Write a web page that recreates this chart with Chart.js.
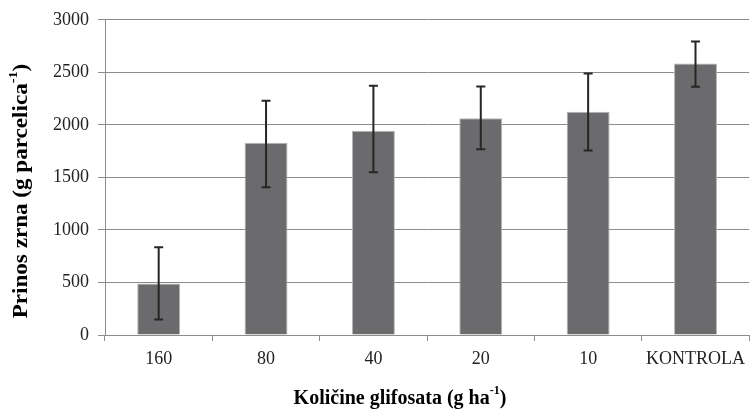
<!DOCTYPE html>
<html>
<head>
<meta charset="utf-8">
<script src="https://cdn.jsdelivr.net/npm/chart.js@4.4.1/dist/chart.umd.min.js"></script>
<style>
  body { margin: 0; background: #fff; }
  #wrap { width: 752px; height: 411px; position: relative; }
</style>
</head>
<body>
<div id="wrap"><canvas id="c"></canvas></div>
<script>
// doses of glyphosate (g ha-1)
const categories = ['160', '80', '40', '20', '10', 'KONTROLA'];
// grain yield, g per plot
const yieldMeans = [490, 1829, 1943, 2062, 2126, 2585];
const errLow = [147, 1407, 1550, 1769, 1755, 2363];
const errHigh = [835, 2230, 2373, 2366, 2490, 2794];
const yTicks = [0, 500, 1000, 1500, 2000, 2500, 3000];

const SERIF = '"Liberation Serif", "Times New Roman", serif';

// error bars drawn over the bars
const errorBars = {
  id: 'errorBars',
  afterDatasetsDraw(chart) {
    const ctx = chart.ctx;
    const x = chart.scales.x, y = chart.scales.y;
    ctx.save();
    ctx.strokeStyle = '#262626';
    ctx.lineWidth = 2;
    categories.forEach((c, i) => {
      const px = x.getPixelForValue(i);
      const top = y.getPixelForValue(errHigh[i]);
      const bot = y.getPixelForValue(errLow[i]);
      ctx.beginPath();
      ctx.moveTo(px, top); ctx.lineTo(px, bot);
      ctx.moveTo(px - 4.5, top); ctx.lineTo(px + 4.5, top);
      ctx.moveTo(px - 4.5, bot); ctx.lineTo(px + 4.5, bot);
      ctx.stroke();
    });
    ctx.restore();
  }
};

// axis title with a superscript -1, centred on (0,0), stretched along the text by k
function drawSup(ctx, main, sup, tail, size, k) {
  const big = 'bold ' + size + 'px ' + SERIF;
  const small = 'bold ' + Math.round(size * 0.6) + 'px ' + SERIF;
  ctx.font = big;
  const w1 = ctx.measureText(main).width;
  const w3 = ctx.measureText(tail).width;
  ctx.font = small;
  const w2 = ctx.measureText(sup).width;
  ctx.scale(k, 1);
  const sx = -(w1 + w2 + w3) / 2;
  ctx.textBaseline = 'middle';
  ctx.textAlign = 'left';
  ctx.font = big;
  ctx.fillText(main, sx, 0);
  ctx.font = small;
  ctx.fillText(sup, sx + w1, -size * 0.38);
  ctx.font = big;
  ctx.fillText(tail, sx + w1 + w2, 0);
}

const axisTitles = {
  id: 'axisTitles',
  afterDraw(chart) {
    const ctx = chart.ctx;
    ctx.fillStyle = '#000';
    ctx.save();
    ctx.translate(400, 399);
    drawSup(ctx, 'Količine glifosata (g ha', '-1', ')', 20, 1);
    ctx.restore();
    ctx.save();
    ctx.translate(22, 191);
    ctx.rotate(-Math.PI / 2);
    drawSup(ctx, 'Prinos zrna (g parcelica', '-1', ')', 21, 1.1);
    ctx.restore();
  }
};

new Chart(document.getElementById('c'), {
  type: 'bar',
  data: {
    labels: categories,
    datasets: [{
      data: yieldMeans,
      backgroundColor: '#6b6b6d',
      borderColor: '#b5b5b5',
      borderWidth: 1,
      barPercentage: 0.8,
      categoryPercentage: 0.5
    }]
  },
  options: {
    responsive: true,
    maintainAspectRatio: false,
    animation: false,
    layout: { padding: { top: 19, right: 0, left: 0, bottom: 0 } },
    plugins: { legend: { display: false }, tooltip: { enabled: false } },
    scales: {
      x: {
        grid: { offset: true, drawOnChartArea: false, color: '#8c8c8c', tickLength: 6 },
        border: { color: '#8c8c8c' },
        ticks: { color: '#222', font: { family: SERIF, size: 18 }, padding: 7 },
        afterFit(s) { s.height = 76; }
      },
      y: {
        min: 0, max: 3000,
        afterBuildTicks(s) { s.ticks = yTicks.map(v => ({ value: v })); },
        grid: { color: '#8c8c8c', tickLength: 7 },
        border: { color: '#8c8c8c' },
        ticks: { color: '#222', font: { family: SERIF, size: 18 }, padding: 9, callback: v => String(v) },
        afterFit(s) { s.width = 105; }
      }
    }
  },
  plugins: [errorBars, axisTitles]
});
</script>
</body>
</html>
